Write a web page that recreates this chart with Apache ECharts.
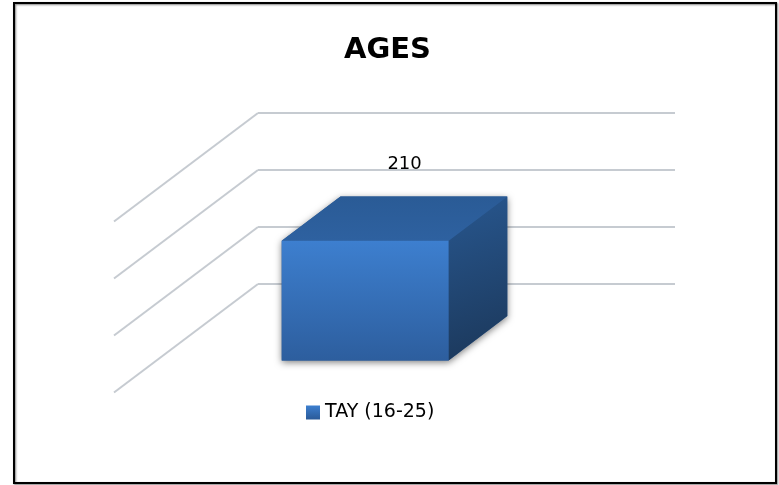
<!DOCTYPE html>
<html>
<head>
<meta charset="utf-8">
<script src="https://cdn.jsdelivr.net/npm/echarts@6/dist/echarts.min.js"></script>
<style>html,body{margin:0;padding:0;background:#fff}#c{width:779px;height:485px}</style>
</head>
<body>
<div id="c"></div>
<script>
// ---- data ----
var titleText = 'AGES';
var categories = ['TAY (16-25)'];
var seriesName = 'TAY (16-25)';
var values = [210];
var yTicks = [0, 100, 200, 300];

// ---- styling constants ----
var DX = -144, DY = 108.5;      // depth vector of 3D floor
var BACK = 0.296, FRONT = 0.704; // bar depth fractions
var BARW = 0.4;                  // fraction of band
var gridColor = '#c6cbd1';
var FONT = 'DejaVu Sans';

var chart = echarts.init(document.getElementById('c'));
var G = echarts.graphic;

function renderBar(params, api) {
  var cat = api.value(0), v = api.value(1);
  var base = api.coord([cat, 0]);
  var top = api.coord([cat, v]);
  var w = api.size([1, 0])[0] * BARW;
  var xl = base[0] - w / 2, xr = base[0] + w / 2;
  var bx = BACK * DX, by = BACK * DY, fx = FRONT * DX, fy = FRONT * DY;
  var frontPts = [[xl + fx, top[1] + fy], [xr + fx, top[1] + fy], [xr + fx, base[1] + fy], [xl + fx, base[1] + fy]];
  var sidePts = [[xr + fx, top[1] + fy], [xr + bx, top[1] + by], [xr + bx, base[1] + by], [xr + fx, base[1] + fy]];
  var topPts = [[xl + fx, top[1] + fy], [xl + bx, top[1] + by], [xr + bx, top[1] + by], [xr + fx, top[1] + fy]];
  return {
    type: 'group',
    children: [
      { type: 'polygon', shape: { points: [[xl + fx, base[1] + fy], [xr + fx, base[1] + fy], [xr + bx, base[1] + by], [xr + bx, top[1] + by], [xl + bx, top[1] + by], [xl + fx, top[1] + fy]] },
        style: { fill: '#2b5a95', shadowBlur: 7, shadowColor: 'rgba(0,0,0,0.5)', shadowOffsetX: 0, shadowOffsetY: 2 } },
      { type: 'polygon', shape: { points: sidePts },
        style: { fill: new G.LinearGradient(0, 0, 1, 1, [{ offset: 0, color: '#28578f' }, { offset: 1, color: '#1b3759' }]) } },
      { type: 'polygon', shape: { points: topPts },
        style: { fill: new G.LinearGradient(0, 1, 0, 0, [{ offset: 0, color: '#2e61a0' }, { offset: 1, color: '#2a5b96' }]) } },
      { type: 'polygon', shape: { points: frontPts },
        style: { fill: new G.LinearGradient(0, 0, 0, 1, [{ offset: 0, color: '#3d7fcf' }, { offset: 1, color: '#2d5e9e' }]) } },
      { type: 'text', style: { text: String(v), x: top[0] + 0.43 * DX, y: top[1] + 0.5, align: 'center', verticalAlign: 'middle',
        font: '18px "' + FONT + '"', fill: '#000' } }
    ]
  };
}

function renderDiag(params, api) {
  var p = api.coord([0, api.value(0)]);
  var x0 = params.coordSys.x;
  return { type: 'line', shape: { x1: x0, y1: p[1], x2: x0 + DX, y2: p[1] + DY },
    style: { stroke: gridColor, lineWidth: 2 } };
}

chart.setOption({
  animation: false,
  backgroundColor: '#fff',
  title: { text: titleText, left: 339, top: 31,
    textStyle: { fontFamily: FONT, fontWeight: 'bold', fontSize: 29, color: '#000' } },
  legend: { data: [{ name: seriesName, icon: 'rect' }], left: 301, top: 398, itemWidth: 14, itemHeight: 14, itemGap: 5,
    textStyle: { fontFamily: FONT, fontSize: 19, color: '#000', padding: [0, 0, 0, 0] } },
  grid: { left: 258, right: 104, top: 113, bottom: 201, containLabel: false },
  xAxis: { type: 'category', data: categories, show: false },
  yAxis: { type: 'value', min: 0, max: 300, interval: 100, axisLabel: { show: false },
    axisLine: { show: false }, axisTick: { show: false },
    splitLine: { show: true, lineStyle: { color: gridColor, width: 2 } } },
  graphic: [{ type: 'rect', shape: { x: 14, y: 3, width: 762, height: 480 }, z: 100,
    style: { fill: 'none', stroke: '#000', lineWidth: 2, shadowBlur: 2, shadowColor: 'rgba(0,0,0,0.5)', shadowOffsetX: 1, shadowOffsetY: 1 } }],
  series: [
    { type: 'custom', name: 'grid', data: yTicks.map(function (t) { return [t]; }), renderItem: renderDiag, silent: true, z: 1,
      encode: { y: 0 } },
    { type: 'custom', name: seriesName, data: categories.map(function (c, i) { return [i, values[i]]; }), renderItem: renderBar, z: 5,
      itemStyle: { color: new G.LinearGradient(0, 0, 0, 1, [{ offset: 0, color: '#3d7fcf' }, { offset: 1, color: '#2a5a98' }]) },
      encode: { x: 0, y: 1 } }
  ]
});
</script>
</body>
</html>
